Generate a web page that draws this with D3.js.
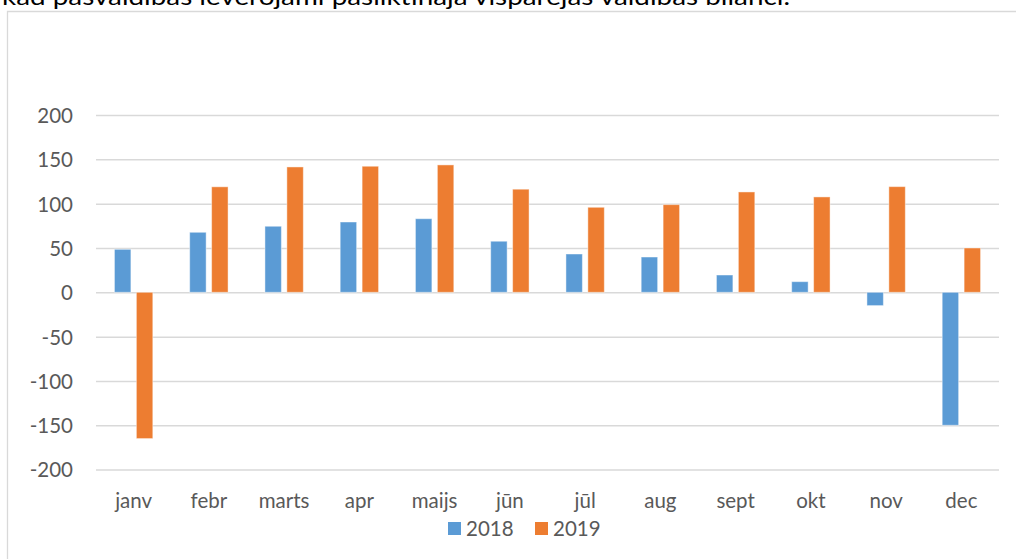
<!DOCTYPE html>
<html>
<head>
<meta charset="utf-8">
<script src="https://cdn.jsdelivr.net/npm/d3@7"></script>
<style>
  body { margin: 0; background: #fff; }
  svg { display: block; font-family: Lato, "Open Sans", sans-serif; }
</style>
</head>
<body>
<svg width="1016" height="559"></svg>
<script>
const months = ["janv", "febr", "marts", "apr", "maijs", "jūn", "jūl", "aug", "sept", "okt", "nov", "dec"];
const seriesNames = ["2018", "2019"];
const v2018 = [48.5, 67.7, 74.5, 79.3, 83, 57.6, 43.2, 39.8, 19.5, 12, -15, -150];
const v2019 = [-165, 119, 141.4, 142.2, 143.7, 116.3, 95.9, 98.9, 113.2, 107.6, 119.2, 50];
const yTicks = [-200, -150, -100, -50, 0, 50, 100, 150, 200];
const colors = ["#5b9bd5", "#ed7d31"];
const caption = "kad pašvaldības ievērojami pasliktināja vispārējās valdības bilanci.";

const sv = d3.select("svg");

// text line of the surrounding document, cut off at the top like in the source
sv.append("text")
    .attr("x", 2).attr("y", 5)
    .attr("font-size", 23)
    .attr("fill", "#000")
    .attr("textLength", 788)
    .attr("lengthAdjust", "spacingAndGlyphs")
    .text(caption);

// chart frame (runs off the right and bottom)
sv.append("path")
    .attr("d", "M7.5,570V11.5H1030")
    .attr("fill", "none")
    .attr("stroke", "#d9d9d9")
    .attr("stroke-width", 1.3);

const x0 = d3.scaleBand().domain(months).range([96, 999]).paddingInner(0.49).paddingOuter(0.245);
const x1 = d3.scaleBand().domain(seriesNames).range([0, x0.bandwidth()]).paddingInner(0.25);
const y = d3.scaleLinear().domain([-200, 200]).range([469.6, 115]);

// gridlines + y labels
const yAxis = d3.axisLeft(y).tickValues(yTicks).tickSize(-(999 - 96)).tickPadding(23)
    .tickFormat(d => String(d));
const gy = sv.append("g").attr("transform", "translate(96,0)").call(yAxis);
gy.select(".domain").remove();
gy.selectAll(".tick line").attr("stroke", "#d9d9d9").attr("stroke-width", 1.5);
gy.selectAll(".tick text")
    .attr("fill", "#595959")
    .attr("font-size", 20.5)
    .attr("font-family", "Lato, sans-serif")
    .attr("dy", "0.36em");

// bars
const rows = months.map((m, i) => ({ m: m, vals: [v2018[i], v2019[i]] }));
const grp = sv.append("g").selectAll("g").data(rows).enter().append("g")
    .attr("transform", d => "translate(" + x0(d.m) + ",0)");
grp.selectAll("rect")
    .data(d => d.vals.map((v, j) => ({ s: seriesNames[j], v: v, j: j })))
    .enter().append("rect")
    .attr("x", d => x1(d.s))
    .attr("width", x1.bandwidth())
    .attr("y", d => y(Math.max(0, d.v)))
    .attr("height", d => Math.abs(y(d.v) - y(0)))
    .attr("fill", d => colors[d.j])
    .attr("stroke", "#fff")
    .attr("stroke-opacity", 0.45)
    .attr("stroke-width", 1);

// x labels
const xAxis = d3.axisBottom(x0).tickSize(0).tickPadding(0);
const gx = sv.append("g").attr("transform", "translate(0,492)").call(xAxis);
gx.select(".domain").remove();
gx.selectAll(".tick text")
    .attr("fill", "#595959")
    .attr("font-size", 20.5)
    .attr("font-family", "Lato, sans-serif")
    .attr("dy", "0.8em");

// legend
const lg = sv.append("g").attr("transform", "translate(448,522)");
const item = lg.selectAll("g").data(seriesNames).enter().append("g")
    .attr("transform", (d, i) => "translate(" + i * 87 + ",0)");
item.append("rect").attr("width", 13).attr("height", 13).attr("fill", (d, i) => colors[i]);
item.append("text")
    .attr("x", 18).attr("y", 14)
    .attr("fill", "#595959")
    .attr("font-size", 20.5)
    .text(d => d);
</script>
</body>
</html>
